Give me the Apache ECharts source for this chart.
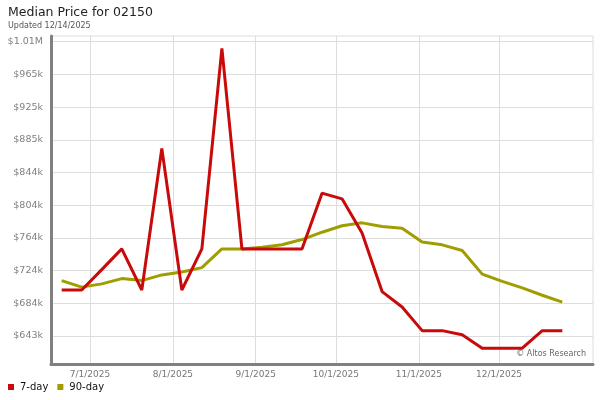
<!DOCTYPE html>
<html>
<head>
<meta charset="utf-8">
<script src="https://cdn.jsdelivr.net/npm/echarts@6/dist/echarts.min.js"></script>
<style>
html,body{margin:0;padding:0;background:#fff;}
#chart{width:600px;height:400px;}
</style>
</head>
<body>
<div id="chart"></div>
<script>
// ---- data ----
var weekDates = ['2025-06-20','2025-06-27','2025-07-04','2025-07-11','2025-07-18','2025-07-25',
  '2025-08-01','2025-08-08','2025-08-15','2025-08-22','2025-08-29','2025-09-05','2025-09-12',
  '2025-09-19','2025-09-26','2025-10-03','2025-10-10','2025-10-17','2025-10-24','2025-10-31',
  '2025-11-07','2025-11-14','2025-11-21','2025-11-28','2025-12-05','2025-12-12'];
var sevenDay = [700000,700000,725000,750500,700000,874000,700000,750500,997000,750500,750500,750500,750500,
  819000,812000,770000,698000,679000,650000,650000,645000,628500,628500,628500,650000,650000];
var ninetyDay = [711500,703500,707500,714000,711500,718500,722000,727500,750500,750500,752500,755500,762000,
  771000,779000,782500,778000,776000,759000,755500,748500,719500,710500,702500,693500,685000];
var yTickValues = [643400,683600,723800,764000,804200,844400,884600,924800,965000,1005200];
var yTickLabels = ['$643k','$684k','$724k','$764k','$804k','$844k','$885k','$925k','$965k','$1.01M'];
var xTickDates = ['2025-07-01','2025-08-01','2025-09-01','2025-10-01','2025-11-01','2025-12-01'];
var xTickLabels = ['7/1/2025','8/1/2025','9/1/2025','10/1/2025','11/1/2025','12/1/2025'];

// ---- helpers ----
function ts(s){var p=s.split('-');return new Date(+p[0],+p[1]-1,+p[2]).getTime();}
var DAY = 86400000;
var xTickTs = xTickDates.map(ts);

var chart = echarts.init(document.getElementById('chart'), null, {renderer:'canvas'});
var FONT = 'DejaVu Sans';
var option = {
  animation:false,
  textStyle:{fontFamily:FONT},
  title:{
    text:'Median Price for 02150', subtext:'Updated 12/14/2025',
    left:3, top:1, itemGap:3,
    textStyle:{fontFamily:FONT,fontSize:12.5,fontWeight:'normal',color:'#222'},
    subtextStyle:{fontFamily:FONT,fontSize:8,color:'#555'}
  },
  legend:{
    data:['7-day','90-day'], left:3, top:377, icon:'rect', itemWidth:6, itemHeight:6, itemGap:9,
    textStyle:{fontFamily:FONT,fontSize:10,color:'#111',padding:[0,0,0,1]}
  },
  graphic:[{type:'text', right:14, top:350, style:{text:'\u00A9 Altos Research', font:'8px "DejaVu Sans"', fill:'#666'}}],
  grid:{left:51,right:7,top:36,bottom:36,show:true,borderColor:'#ddd',borderWidth:1,backgroundColor:'transparent'},
  xAxis:[
    {type:'time', min:ts(weekDates[0])-3.74*DAY, max:ts(weekDates[weekDates.length-1])+10.73*DAY,
     show:true, axisLine:{show:false}, axisTick:{show:false}, axisLabel:{show:false}, splitLine:{show:false}},
    {type:'value', position:'bottom', min:xTickTs[0]-14.59*DAY, max:xTickTs[xTickTs.length-1]+35.16*DAY,
     axisLine:{show:true,onZero:false,lineStyle:{color:'#808080',width:3}},
     axisTick:{show:false,customValues:xTickTs},
     axisLabel:{customValues:xTickTs,fontFamily:FONT,fontSize:9,color:'#777',margin:6,
       formatter:function(v){var i=xTickTs.indexOf(v);return i>=0?xTickLabels[i]:'';}},
     splitLine:{show:true,lineStyle:{color:'#ddd',width:1}}}
  ],
  yAxis:{
    type:'value', min:609000, max:1012200,
    axisLine:{show:true,lineStyle:{color:'#808080',width:3}},
    axisTick:{show:false,customValues:yTickValues},
    axisLabel:{customValues:yTickValues,fontFamily:FONT,fontSize:9.5,color:'#808080',margin:8,
      formatter:function(v){var i=yTickValues.indexOf(v);return i>=0?yTickLabels[i]:'';}},
    splitLine:{show:true,lineStyle:{color:'#ddd',width:1}}
  },
  series:[
    {name:'90-day', type:'line', xAxisIndex:0, showSymbol:false, symbol:'none',
     lineStyle:{color:'#a09d00',width:3}, itemStyle:{color:'#a09d00'},
     data:weekDates.map(function(d,i){return [ts(d),ninetyDay[i]];})},
    {name:'7-day', type:'line', xAxisIndex:0, showSymbol:false, symbol:'none',
     lineStyle:{color:'#c80a0a',width:3}, itemStyle:{color:'#c80a0a'},
     data:weekDates.map(function(d,i){return [ts(d),sevenDay[i]];})}
  ]
};
chart.setOption(option);
</script>
</body>
</html>
